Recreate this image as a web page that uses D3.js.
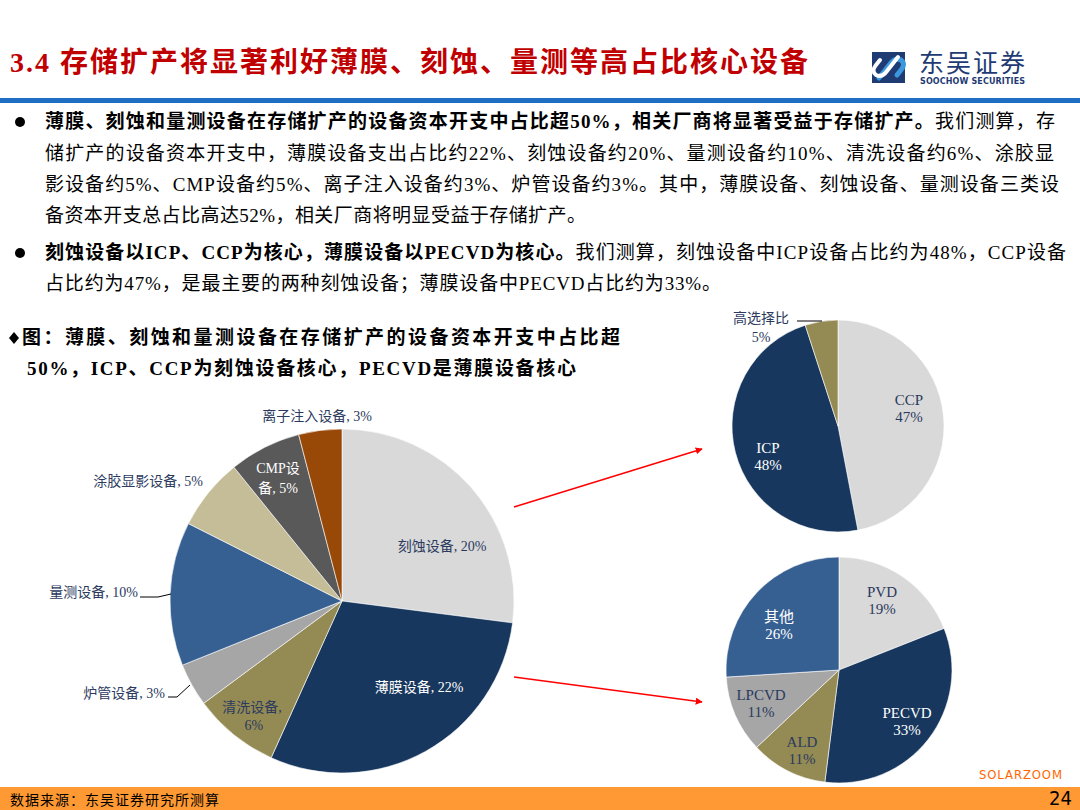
<!DOCTYPE html>
<html>
<head>
<meta charset="utf-8">
<title>存储扩产设备资本开支占比</title>
<script src="https://cdn.jsdelivr.net/npm/d3@7"></script>
<style>
body { margin:0; background:#fff; }
svg { display:block; }
</style>
</head>
<body>
<div id="chart"></div>
<script>
// ---- data ----
// equipment capex split for memory expansion, %
var mainCats = ["刻蚀设备", "薄膜设备", "清洗设备", "炉管设备", "量测设备", "涂胶显影设备", "CMP设备", "离子注入设备"];
var mainVals = [20, 22, 6, 3, 10, 5, 5, 3];
// etch equipment split, %
var etchCats = ["CCP", "ICP", "高选择比"];
var etchVals = [47, 48, 5];
// thin film equipment split, %
var filmCats = ["PVD", "PECVD", "ALD", "LPCVD", "其他"];
var filmVals = [19, 33, 11, 11, 26];

// ---- styles ----
var NAVY = "#2B3A5E";
var mainColors = ["#D9D9D9", "#17375E", "#948A54", "#A6A6A6", "#376092", "#C4BD97", "#595959", "#984807"];
var etchColors = ["#D9D9D9", "#17375E", "#948A54"];
var filmColors = ["#D9D9D9", "#17375E", "#948A54", "#A6A6A6", "#376092"];
var SERIF = "'Liberation Serif','Noto Sans CJK SC',serif";

var W = 1080, H = 810;
var svg = d3.select("#chart").append("svg")
	.attr("width", W)
	.attr("height", H)
	.attr("xmlns", "http://www.w3.org/2000/svg");

// stretch a text element to a given width through letter-spacing
function fit(sel, w) {
	var n = sel.node();
	var len = n.getComputedTextLength();
	var k = n.getNumberOfChars();
	if (k > 1) sel.attr("letter-spacing", (w - len) / (k - 1));
}

// ---- header ----
var title = svg.append("text")
	.attr("x", 10).attr("y", 72)
	.attr("fill", "#C00000")
	.style("font-family", "'Liberation Serif','Noto Sans CJK SC',serif")
	.style("font-size", "28px")
	.style("font-weight", "bold")
	.text("3.4 存储扩产将显著利好薄膜、刻蚀、量测等高占比核心设备");
fit(title, 798);

// logo
var logo = svg.append("g");
logo.append("rect").attr("x", 872).attr("y", 52).attr("width", 33).attr("height", 31).attr("fill", "#1F3B73");
logo.append("path")
	.attr("d", "M879,78 L890,64 Q895,57 901,60 Q906,64 901,70 L897,75")
	.attr("fill", "none").attr("stroke", "#3C97DD").attr("stroke-width", 5).attr("stroke-linecap", "round");
logo.append("path")
	.attr("d", "M898,57 L887,71 Q882,78 876,75 Q871,71 876,65 L880,60")
	.attr("fill", "none").attr("stroke", "#fff").attr("stroke-width", 4).attr("stroke-linecap", "round");
logo.append("text")
	.attr("x", 919).attr("y", 72)
	.attr("fill", "#1F3B73")
	.style("font-family", "'Noto Sans CJK SC',sans-serif")
	.style("font-size", "25px")
	.text("东吴证券")
	.call(fit, 106);
logo.append("text")
	.attr("x", 920).attr("y", 84)
	.attr("fill", "#1F3B73")
	.style("font-family", "'DejaVu Sans',sans-serif")
	.style("font-size", "8px")
	.style("font-weight", "bold")
	.text("SOOCHOW SECURITIES")
	.call(fit, 105);

svg.append("rect").attr("x", 0).attr("y", 98).attr("width", W).attr("height", 5).attr("fill", "#1E6FC3");

// ---- bullet text ----
var bodyLines = [
	{ y: 128, w: 1010, parts: [["薄膜、刻蚀和量测设备在存储扩产的设备资本开支中占比超50%，相关厂商将显著受益于存储扩产。", true], ["我们测算，存", false]] },
	{ y: 160, w: 1009, parts: [["储扩产的设备资本开支中，薄膜设备支出占比约22%、刻蚀设备约20%、量测设备约10%、清洗设备约6%、涂胶显", false]] },
	{ y: 191, w: 1014, parts: [["影设备约5%、CMP设备约5%、离子注入设备约3%、炉管设备约3%。其中，薄膜设备、刻蚀设备、量测设备三类设", false]] },
	{ y: 222, w: 541, parts: [["备资本开支总占比高达52%，相关厂商将明显受益于存储扩产。", false]] },
	{ y: 259, w: 1021, parts: [["刻蚀设备以ICP、CCP为核心，薄膜设备以PECVD为核心。", true], ["我们测算，刻蚀设备中ICP设备占比约为48%，CCP设备", false]] },
	{ y: 290, w: 676, parts: [["占比约为47%，是最主要的两种刻蚀设备；薄膜设备中PECVD占比约为33%。", false]] }
];
bodyLines.forEach(function(l) {
	var t = svg.append("text")
		.attr("x", 45).attr("y", l.y)
		.attr("fill", "#000")
		.style("font-family", SERIF)
		.style("font-size", "19px");
	l.parts.forEach(function(p) {
		t.append("tspan").style("font-weight", p[1] ? "bold" : "normal").text(p[0]);
	});
	fit(t, l.w);
});
[122, 253].forEach(function(y) {
	svg.append("circle").attr("cx", 20).attr("cy", y).attr("r", 5).attr("fill", "#000");
});

// ---- figure caption ----
svg.append("path").attr("d", "M14,332 L19,338 L14,344 L9,338 Z").attr("fill", "#000");
var cap1 = svg.append("text")
	.attr("x", 22).attr("y", 344)
	.style("font-family", SERIF).style("font-size", "19px").style("font-weight", "bold")
	.text("图：薄膜、刻蚀和量测设备在存储扩产的设备资本开支中占比超");
fit(cap1, 598);
var cap2 = svg.append("text")
	.attr("x", 27).attr("y", 375)
	.style("font-family", SERIF).style("font-size", "19px").style("font-weight", "bold")
	.text("50%，ICP、CCP为刻蚀设备核心，PECVD是薄膜设备核心");
fit(cap2, 549);

// ---- pies ----
var pie = d3.pie().sort(null).value(function(d) { return d.v; });

function drawPie(cats, vals, colors, cx, cy, r, labels) {
	var data = cats.map(function(c, i) { return { c: c, v: vals[i] }; });
	var arc = d3.arc().innerRadius(0).outerRadius(r);
	var g = svg.append("g").attr("transform", "translate(" + cx + "," + cy + ")");
	g.selectAll("path.slice").data(pie(data)).enter().append("path")
		.attr("class", "slice")
		.attr("d", arc)
		.attr("fill", function(d, i) { return colors[i]; })
		.attr("stroke", "#fff")
		.attr("stroke-width", 0.6);

	data.forEach(function(d) {
		var L = labels[d.c];
		if (!L) return;
		var lines = L.fmt(d);
		var t = svg.append("text")
			.attr("text-anchor", L.anchor || "middle")
			.attr("fill", L.fill)
			.style("font-family", SERIF)
			.style("font-size", (L.size || 14) + "px");
		lines.forEach(function(s, i) {
			t.append("tspan").attr("x", L.x).attr("y", L.y + i * (L.lh || 18)).text(s);
		});
		if (L.leader) {
			svg.append("polyline")
				.attr("points", L.leader.map(function(p) { return p.join(","); }).join(" "))
				.attr("fill", "none").attr("stroke", "#000").attr("stroke-width", 1);
		}
	});
}

function one(d) { return [d.c + ", " + d.v + "%"]; }
function brk(n) { return function(d) { var s = d.c + ", " + d.v + "%"; return [s.slice(0, n), s.slice(n)]; }; }
function two(d) { return [d.c, d.v + "%"]; }

var mainLabels = {
	"刻蚀设备": { x: 442, y: 551, fill: NAVY, fmt: one },
	"薄膜设备": { x: 419, y: 692, fill: "#fff", fmt: one },
	"清洗设备": { x: 252, y: 712, fill: NAVY, fmt: brk(5) },
	"炉管设备": { x: 165, y: 698, fill: NAVY, anchor: "end", fmt: one, leader: [[168, 697], [177, 697], [190, 685]] },
	"量测设备": { x: 138, y: 597, fill: NAVY, anchor: "end", fmt: one, leader: [[140, 597], [158, 597], [171, 594]] },
	"涂胶显影设备": { x: 203, y: 486, fill: NAVY, anchor: "end", fmt: one },
	"CMP设备": { x: 278, y: 473, fill: "#fff", fmt: brk(4), lh: 20 },
	"离子注入设备": { x: 317, y: 421, fill: NAVY, fmt: one }
};
drawPie(mainCats, mainVals, mainColors, 342, 601, 172, mainLabels);

var etchLabels = {
	"CCP": { x: 909, y: 405, fill: NAVY, size: 15, fmt: two, lh: 17 },
	"ICP": { x: 768, y: 453, fill: "#fff", size: 15, fmt: two, lh: 17 },
	"高选择比": { x: 761, y: 323, fill: NAVY, size: 14, fmt: two, lh: 19, leader: [[797, 321], [822, 321]] }
};
drawPie(etchCats, etchVals, etchColors, 838, 426, 106, etchLabels);

var filmLabels = {
	"PVD": { x: 882, y: 597, fill: NAVY, size: 15, fmt: two, lh: 17 },
	"PECVD": { x: 907, y: 718, fill: "#fff", size: 15, fmt: two, lh: 17 },
	"ALD": { x: 802, y: 747, fill: NAVY, size: 15, fmt: two, lh: 17 },
	"LPCVD": { x: 761, y: 700, fill: NAVY, size: 15, fmt: two, lh: 17 },
	"其他": { x: 779, y: 622, fill: "#fff", size: 15, fmt: two, lh: 17 }
};
drawPie(filmCats, filmVals, filmColors, 839, 670, 113, filmLabels);

// ---- red arrows ----
svg.append("defs").append("marker")
	.attr("id", "arr")
	.attr("viewBox", "0 0 10 10")
	.attr("refX", 9).attr("refY", 5)
	.attr("markerWidth", 7).attr("markerHeight", 7)
	.attr("markerUnits", "userSpaceOnUse")
	.attr("orient", "auto")
	.append("path").attr("d", "M0,0 L10,5 L0,10 Z").attr("fill", "#FF0000");
[[514, 507, 702, 449], [514, 677, 702, 702]].forEach(function(a) {
	svg.append("line")
		.attr("x1", a[0]).attr("y1", a[1]).attr("x2", a[2]).attr("y2", a[3])
		.attr("stroke", "#FF0000").attr("stroke-width", 1.5)
		.attr("marker-end", "url(#arr)");
});

// ---- footer ----
svg.append("text")
	.attr("x", 979).attr("y", 779)
	.attr("fill", "#FF6600")
	.style("font-family", "'Liberation Sans Narrow','DejaVu Sans Condensed','DejaVu Sans',sans-serif")
	.style("font-size", "13px")
	.text("SOLARZOOM")
	.call(fit, 83);
svg.append("rect").attr("x", 0).attr("y", 787).attr("width", W).attr("height", 23).attr("fill", "#FF9933");
svg.append("text")
	.attr("x", 10).attr("y", 805)
	.attr("fill", "#000")
	.style("font-family", "'Noto Sans CJK SC',sans-serif")
	.style("font-size", "14px")
	.text("数据来源：东吴证券研究所测算")
	.call(fit, 209);
svg.append("text")
	.attr("x", 1072).attr("y", 805)
	.attr("text-anchor", "end")
	.attr("fill", "#000")
	.style("font-family", "'Liberation Sans Narrow','DejaVu Sans Condensed',sans-serif")
	.style("font-size", "20px")
	.text("24");
</script>
</body>
</html>
